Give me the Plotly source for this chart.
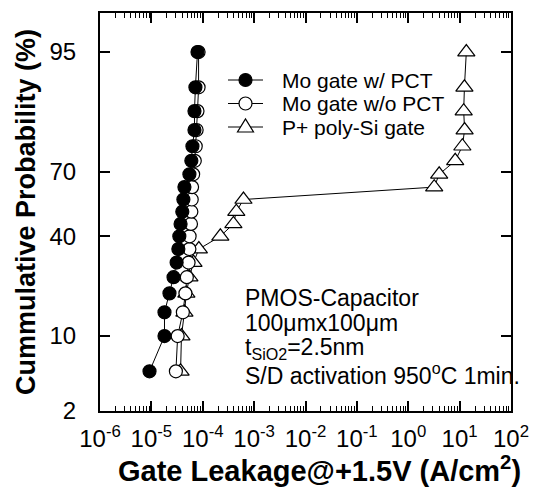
import math
import plotly.graph_objects as go

# ---------------- data ----------------
prob_pct = [5, 10, 15, 20, 25, 30, 35, 40, 45, 50, 55, 60, 65, 70, 75, 80, 85, 90, 95]

mo_pct_leak = [9.2e-6, 1.8e-5, 1.8e-5, 2.25e-5, 2.7e-5, 3.1e-5, 3.35e-5, 3.5e-5, 3.7e-5,
               4.0e-5, 4.2e-5, 4.4e-5, 5.5e-5, 6.0e-5, 6.3e-5, 6.9e-5, 6.9e-5, 7.2e-5, 7.9e-5]

mo_nopct_leak = [3.0e-5, 3.25e-5, 4.1e-5, 4.6e-5, 4.9e-5, 5.3e-5, 5.5e-5, 5.55e-5, 5.9e-5,
                 6.0e-5, 6.1e-5, 6.2e-5, 6.5e-5, 7.0e-5, 7.3e-5, 7.6e-5, 7.9e-5, 8.3e-5, 8.3e-5]

poly_leak = [3.7e-5, 3.85e-5, 4.4e-5, 4.8e-5, 5.5e-5, 6.6e-5, 8.4e-5, 2.2e-4, 3.95e-4,
             4.5e-4, 6.2e-4, 3.2, 4.0, 8.2, 11.3, 12.5, 12.0, 12.4, 13.5]

series_names = ["Mo gate w/ PCT", "Mo gate w/o PCT", "P+ poly-Si gate"]
# tick labels and the probability positions where the reference draws them
y_tick_labels = ["2", "10", "40", "70", "95"]
y_tick_pos_pct = [2, 10, 40, 66, 95]
x_tick_exp = [-6, -5, -4, -3, -2, -1, 0, 1, 2]
y_range_pct = [2, 97.97]

x_title = "<b>Gate Leakage@+1.5V (A/cm<sup>2</sup>)</b>"
y_title = "<b>Cummulative Probability (%)</b>"


def probit(p):
    """Inverse standard normal CDF (bisection on erf)."""
    lo, hi = -10.0, 10.0
    for _ in range(100):
        mid = 0.5 * (lo + hi)
        if 0.5 * (1 + math.erf(mid / math.sqrt(2))) < p:
            lo = mid
        else:
            hi = mid
    return 0.5 * (lo + hi)


def to_z(pcts):
    return [probit(v / 100.0) for v in pcts]


FONT = "Liberation Sans, Arial, Helvetica, sans-serif"
yz = to_z(prob_pct)

# plot-area geometry (pixels) used for placing decorations in paper coords
L, R, T, B = 100, 511, 13, 411
PW, PH = R - L, B - T


def px(x):
    return (x - L) / PW


def py(y):
    return (B - y) / PH


styles = [
    dict(symbol="circle", size=13, color="black"),
    dict(symbol="circle", size=13, color="white"),
    dict(symbol="triangle-up", size=15, color="white"),
]
series_x = [mo_pct_leak, mo_nopct_leak, poly_leak]

fig = go.Figure()
for i in [2, 1, 0]:
    st = styles[i]
    fig.add_trace(go.Scatter(
        x=series_x[i], y=yz, mode="lines+markers", name=series_names[i],
        line=dict(color="black", width=1),
        marker=dict(symbol=st["symbol"], size=st["size"], color=st["color"],
                    line=dict(color="black", width=1.2)),
        showlegend=False,
    ))

# ---- manual legend (compact rows like the reference) ----
shapes = []
annotations = []
for i, name in enumerate(series_names):
    yy = 80 + 23.5 * i
    shapes.append(dict(type="line", xref="paper", yref="paper",
                       x0=px(228), x1=px(263), y0=py(yy), y1=py(yy),
                       line=dict(color="black", width=1)))
    cx = 245.5
    if i < 2:
        r = 6.5
        shapes.append(dict(type="circle", xref="paper", yref="paper",
                           x0=px(cx - r), x1=px(cx + r), y0=py(yy + r), y1=py(yy - r),
                           fillcolor=styles[i]["color"], line=dict(color="black", width=1.2)))
    else:
        path = "M {:.5f} {:.5f} L {:.5f} {:.5f} L {:.5f} {:.5f} Z".format(
            px(cx - 8), py(yy + 5), px(cx + 8), py(yy + 5), px(cx), py(yy - 8))
        shapes.append(dict(type="path", xref="paper", yref="paper", path=path,
                           fillcolor="white", line=dict(color="black", width=1.2)))
    annotations.append(dict(
        text=name, xref="paper", yref="paper", x=px(280), y=py(yy),
        xanchor="left", yanchor="middle", showarrow=False,
        font=dict(family=FONT, size=21, color="black"),
    ))

notes = [
    ("PMOS-Capacitor", 298),
    ("100\u03bcmx100\u03bcm", 323),
    ("t<sub>SiO2</sub>=2.5nm", 348),
    ("S/D activation 950<sup>o</sup>C 1min.", 374),
]
for txt, yy in notes:
    annotations.append(dict(
        text=txt, xref="paper", yref="paper", x=px(243), y=py(yy),
        xanchor="left", yanchor="middle", showarrow=False,
        font=dict(family=FONT, size=23, color="black"),
    ))

# x-axis title (placed like the reference, slightly right of the plot centre)
annotations.append(dict(
    text=x_title, xref="paper", yref="paper", x=px(319), y=py(469),
    xanchor="center", yanchor="middle", showarrow=False,
    font=dict(family=FONT, size=29, color="black"),
))

fig.update_layout(
    width=540, height=491,
    margin=dict(l=L, r=540 - R, t=T, b=491 - B),
    paper_bgcolor="white", plot_bgcolor="white",
    font=dict(family=FONT, color="black"),
    showlegend=False,
    shapes=shapes,
    annotations=annotations,
)

minor_vals = [m * 10.0 ** e for e in x_tick_exp[:-1] for m in range(2, 10)]

fig.update_xaxes(
    type="log", range=[x_tick_exp[0], x_tick_exp[-1]],
    tickvals=[10.0 ** e for e in x_tick_exp],
    ticktext=["10<sup>%d</sup>" % e for e in x_tick_exp],
    tickangle=0, ticklabelstandoff=5,
    ticks="inside", ticklen=10, tickwidth=1.5, tickcolor="black",
    minor=dict(tickvals=minor_vals, ticks="inside", ticklen=5, tickwidth=1,
               tickcolor="black", showgrid=False),
    showline=True, linewidth=2, linecolor="black", mirror="ticks",
    showgrid=False, zeroline=False, automargin=False,
    tickfont=dict(family=FONT, size=24, color="black"),
)

fig.update_yaxes(
    range=to_z(y_range_pct),
    tickvals=to_z(y_tick_pos_pct), ticktext=y_tick_labels,
    ticklabelstandoff=17,
    ticks="inside", ticklen=10, tickwidth=1.5, tickcolor="black",
    showline=True, linewidth=2, linecolor="black", mirror="ticks",
    showgrid=False, zeroline=False, automargin=False,
    tickfont=dict(family=FONT, size=24, color="black"),
    title=dict(text=y_title, font=dict(family=FONT, size=27, color="black"), standoff=6),
)

fig.write_html("out.html")
